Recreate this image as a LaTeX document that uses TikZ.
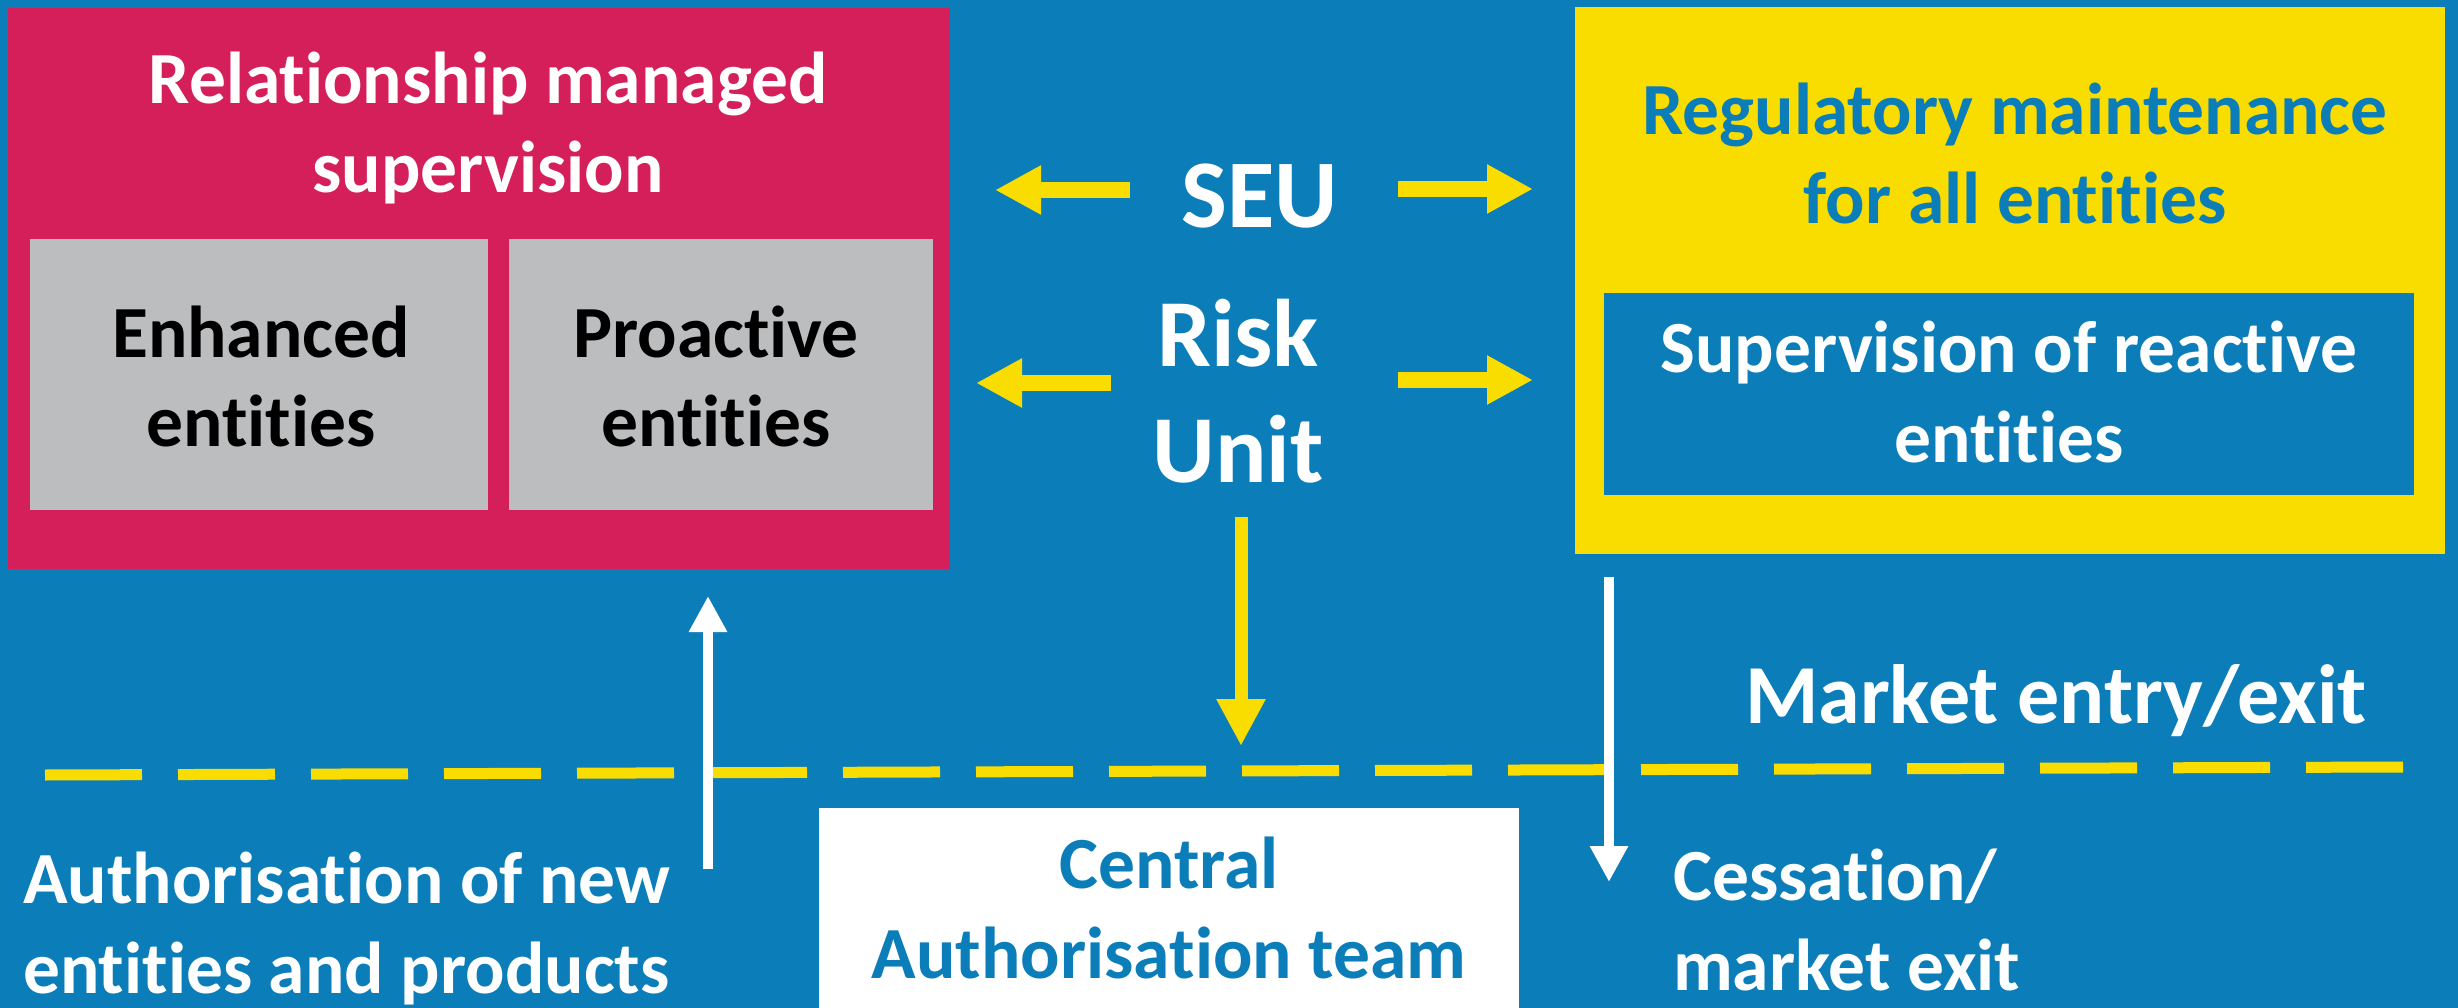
\documentclass[tikz,border=0pt]{standalone}
\usepackage{fontspec}
\setmainfont{Carlito}[Ligatures=NoCommon]
\usetikzlibrary{arrows.meta}
\definecolor{bgblue}{RGB}{11,125,185}
\definecolor{rmpink}{RGB}{212,31,90}
\definecolor{boxgray}{RGB}{188,189,191}
\definecolor{regyellow}{RGB}{250,221,0}
\newcommand{\txtfont}{\bfseries\fontsize{73.5pt}{89.5pt}\selectfont}
\begin{document}
\begin{tikzpicture}[x=1pt,y=-1pt,
  box/.style={draw=none, inner sep=0pt, rectangle},
  lbl/.style={inner sep=0pt, anchor=base, align=center, font=\txtfont},
  lblw/.style={inner sep=0pt, anchor=base west, align=left, font=\txtfont},
  yarrow/.style={draw=regyellow, line width=16pt, -{Triangle[length=46pt,width=46pt]}},
  ydown/.style={draw=regyellow, line width=13pt, -{Triangle[length=47pt,width=46pt]}},
  warrow/.style={draw=white, line width=10pt, -{Triangle[length=36pt,width=36pt]}},
  dashline/.style={draw=regyellow, line width=11pt, dash pattern=on 97pt off 36pt}]
\useasboundingbox (0,0) rectangle (2458,1008);
\fill[bgblue] (0,0) rectangle (2458,1008);

% boxes
\node[box, fill=rmpink, minimum width=942pt, minimum height=561pt] (rms) at (479,288.5) {};
\node[box, fill=boxgray, minimum width=458pt, minimum height=271pt] (enh) at (259,374.5) {};
\node[box, fill=boxgray, minimum width=424pt, minimum height=271pt] (pro) at (721,374.5) {};
\node[box, fill=regyellow, minimum width=870pt, minimum height=547pt] (reg) at (2010,280.5) {};
\node[box, fill=bgblue, minimum width=810pt, minimum height=201pt] (rea) at (2009,394) {};
\node[box, fill=white, minimum width=700pt, minimum height=200pt] (cat) at (1169,908) {};

% labels (placed by the baseline of their last line)
\node[lbl, text=white] (rmsT) at (488,192.6) {Relationship managed\\supervision};
\node[lbl, text=black] (enhT) at (261,446.7) {Enhanced\\entities};
\node[lbl, text=black] (proT) at (716,446.7) {Proactive\\entities};
\node[lbl, text=bgblue] (regT) at (2015,224) {Regulatory maintenance\\for all entities};
\node[lbl, text=white] (reaT) at (2009,462) {Supervision of reactive\\entities};
\node[lbl, text=white, font=\bfseries\fontsize{97pt}{116pt}\selectfont] (seu) at (1259.5,228) {SEU};
\node[lbl, text=white, font=\bfseries\fontsize{96pt}{116pt}\selectfont] (risk) at (1238,482) {Risk\\Unit};
\node[lbl, text=bgblue] (catT) at (1169,978) {Central\\Authorisation team};
\node[lblw, text=white] (authT) at (23,993) {Authorisation of new\\entities and products};
\node[lblw, text=white] (cesT) at (1673,990) {Cessation/\\market exit};
\node[lblw, text=white, font=\bfseries\fontsize{84pt}{100pt}\selectfont] (mkt) at (1745,723) {Market entry/exit};

% arrow end points
\coordinate (seuLs) at (1130,190);
\coordinate (seuLe) at (995,190);
\coordinate (seuRs) at (1398,189);
\coordinate (seuRe) at (1533,189);
\coordinate (riskLs) at (1111,383);
\coordinate (riskLe) at (976,383);
\coordinate (riskRs) at (1398,380);
\coordinate (riskRe) at (1533,380);
\coordinate (riskDs) at (1241,517);
\coordinate (riskDe) at (1241,746);
\coordinate (authS) at (708,869);
\coordinate (authE) at (708,596);
\coordinate (exitS) at (1609,577);
\coordinate (exitE) at (1609,882);
\coordinate (dashL) at (45,775);
\coordinate (dashR) at (2403,767);

% market boundary
\draw[dashline] (dashL) -- (dashR);

% connectors
\draw[yarrow] (seuLs) -- (seuLe);
\draw[yarrow] (seuRs) -- (seuRe);
\draw[yarrow] (riskLs) -- (riskLe);
\draw[yarrow] (riskRs) -- (riskRe);
\draw[ydown] (riskDs) -- (riskDe);
\draw[warrow] (authS) -- (authE);
\draw[warrow] (exitS) -- (exitE);
\end{tikzpicture}
\end{document}
